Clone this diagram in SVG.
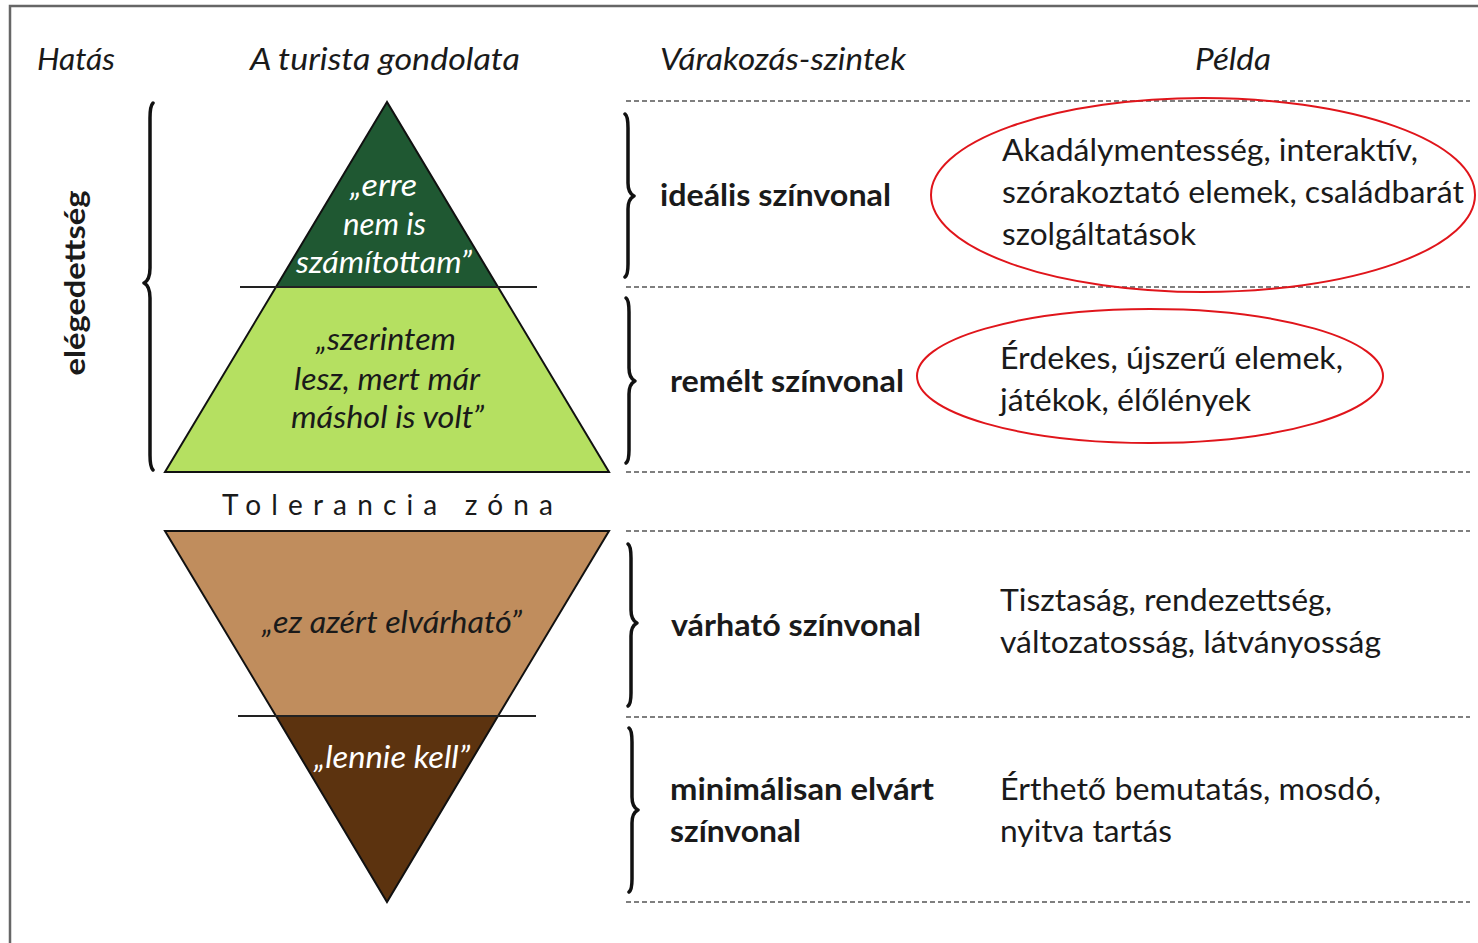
<svg xmlns="http://www.w3.org/2000/svg" width="1478" height="943" viewBox="0 0 1478 943">
<style>
text{font-family:Lato,"Open Sans","Liberation Sans",sans-serif;fill:#1a1a1a}
.hd{font-size:31px;font-style:italic}
.q{font-size:30px;font-style:italic}
.w{fill:#ffffff}
.lv{font-size:30px;font-weight:bold}
.ex{font-size:30px}
.dash{stroke:#555;stroke-width:1.6;stroke-dasharray:5 3;fill:none}
.brace{stroke:#111;stroke-width:3.5;fill:none;stroke-linecap:round;stroke-linejoin:round}
.tri{stroke:#111;stroke-width:2}
.div{stroke:#222;stroke-width:2}
.ell{fill:none;stroke:#e0151b;stroke-width:2}
</style>
<rect x="0" y="0" width="1478" height="943" fill="#ffffff"/>
<path d="M10,943 L10,6 L1478,6" fill="none" stroke="#666" stroke-width="2.5"/>

<g id="headers">
<text class="hd" x="37" y="70" textLength="78" lengthAdjust="spacingAndGlyphs">Hatás</text>
<text class="hd" x="250" y="70" textLength="270" lengthAdjust="spacingAndGlyphs">A turista gondolata</text>
<text class="hd" x="660" y="70" textLength="246" lengthAdjust="spacingAndGlyphs">Várakozás-szintek</text>
<text class="hd" x="1195" y="70" textLength="76" lengthAdjust="spacingAndGlyphs">Példa</text>
</g>

<g id="connectors">
<line class="dash" x1="626" y1="101" x2="1470" y2="101"/>
<line class="dash" x1="626" y1="287" x2="1470" y2="287"/>
<line class="dash" x1="626" y1="472" x2="1470" y2="472"/>
<line class="dash" x1="626" y1="531" x2="1470" y2="531"/>
<line class="dash" x1="626" y1="717" x2="1470" y2="717"/>
<line class="dash" x1="626" y1="902" x2="1470" y2="902"/>
</g>

<g id="satisfaction">
<path class="brace" d="M153,103 Q150,106 150,118 L150,268 Q150,280 144,283 Q150,286 150,298 L150,455 Q150,467 153,470"/>
<text x="0" y="0" transform="translate(85,283) rotate(-90)" text-anchor="middle" font-size="29" font-weight="bold" textLength="185" lengthAdjust="spacingAndGlyphs">elégedettség</text>
</g>

<g id="pyramid-top">
<polygon class="tri" points="387,102 276,287 498,287" fill="#1f5832"/>
<text class="q w" x="350" y="196" textLength="67" lengthAdjust="spacingAndGlyphs">„erre</text>
<text class="q w" x="343" y="235" textLength="83" lengthAdjust="spacingAndGlyphs">nem is</text>
<text class="q w" x="296" y="273" textLength="176" lengthAdjust="spacingAndGlyphs">számítottam”</text>
</g>

<g id="pyramid-middle">
<polygon class="tri" points="276,287 498,287 609,472 165,472" fill="#b5e061"/>
<text class="q" x="316" y="350" textLength="140" lengthAdjust="spacingAndGlyphs">„szerintem</text>
<text class="q" x="294" y="390" textLength="186" lengthAdjust="spacingAndGlyphs">lesz, mert már</text>
<text class="q" x="291" y="428" textLength="193" lengthAdjust="spacingAndGlyphs">máshol is volt”</text>
<line class="div" x1="240" y1="287" x2="537" y2="287"/>
</g>

<g id="tolerance">
<text x="222" y="515" font-size="28" textLength="331" lengthAdjust="spacing" fill="#222">Tolerancia zóna</text>
</g>

<g id="inverted-top">
<polygon class="tri" points="165,531 609,531 498,716 276,716" fill="#c08d5d"/>
<text class="q" x="262" y="633" textLength="260" lengthAdjust="spacingAndGlyphs">„ez azért elvárható”</text>
</g>

<g id="inverted-bottom">
<polygon class="tri" points="276,716 498,716 387,902" fill="#5c330f"/>
<text class="q w" x="314" y="768" textLength="156" lengthAdjust="spacingAndGlyphs">„lennie kell”</text>
<line class="div" x1="238" y1="716" x2="536" y2="716"/>
</g>

<g id="level-ideal">
<path class="brace" d="M625,114 Q628,116 628,128 L628,183 Q628,193 634,196 Q628,199 628,209 L628,264 Q628,275 625,277"/>
<text class="lv" x="660" y="206" textLength="231" lengthAdjust="spacingAndGlyphs">ideális színvonal</text>
</g>
<g id="level-hoped">
<path class="brace" d="M626,298 Q629,300 629,312 L629,368 Q629,378 635,381 Q629,384 629,394 L629,450 Q629,461 626,463"/>
<text class="lv" x="670" y="392" textLength="234" lengthAdjust="spacingAndGlyphs">remélt színvonal</text>
</g>
<g id="level-expected">
<path class="brace" d="M628,544 Q631,546 631,558 L631,610 Q631,620 637,623 Q631,626 631,636 L631,693 Q631,704 628,706"/>
<text class="lv" x="671" y="636" textLength="250" lengthAdjust="spacingAndGlyphs">várható színvonal</text>
</g>
<g id="level-minimal">
<path class="brace" d="M629,728 Q632,730 632,742 L632,797 Q632,807 638,810 Q632,813 632,823 L632,879 Q632,890 629,892"/>
<text class="lv" x="670" y="800" textLength="264" lengthAdjust="spacingAndGlyphs">minimálisan elvárt</text>
<text class="lv" x="670" y="842" textLength="131" lengthAdjust="spacingAndGlyphs">színvonal</text>
</g>

<g id="example-ideal">
<ellipse class="ell" cx="1203" cy="195" rx="272" ry="97"/>
<text class="ex" x="1002" y="161" textLength="416" lengthAdjust="spacingAndGlyphs">Akadálymentesség, interaktív,</text>
<text class="ex" x="1002" y="203" textLength="462" lengthAdjust="spacingAndGlyphs">szórakoztató elemek, családbarát</text>
<text class="ex" x="1002" y="245" textLength="194" lengthAdjust="spacingAndGlyphs">szolgáltatások</text>
</g>
<g id="example-hoped">
<ellipse class="ell" cx="1150" cy="376" rx="233" ry="67"/>
<text class="ex" x="1000" y="369" textLength="343" lengthAdjust="spacingAndGlyphs">Érdekes, újszerű elemek,</text>
<text class="ex" x="1000" y="411" textLength="251" lengthAdjust="spacingAndGlyphs">játékok, élőlények</text>
</g>
<g id="example-expected">
<text class="ex" x="1000" y="611" textLength="332" lengthAdjust="spacingAndGlyphs">Tisztaság, rendezettség,</text>
<text class="ex" x="1000" y="653" textLength="381" lengthAdjust="spacingAndGlyphs">változatosság, látványosság</text>
</g>
<g id="example-minimal">
<text class="ex" x="1000" y="800" textLength="381" lengthAdjust="spacingAndGlyphs">Érthető bemutatás, mosdó,</text>
<text class="ex" x="1000" y="842" textLength="172" lengthAdjust="spacingAndGlyphs">nyitva tartás</text>
</g>
</svg>
